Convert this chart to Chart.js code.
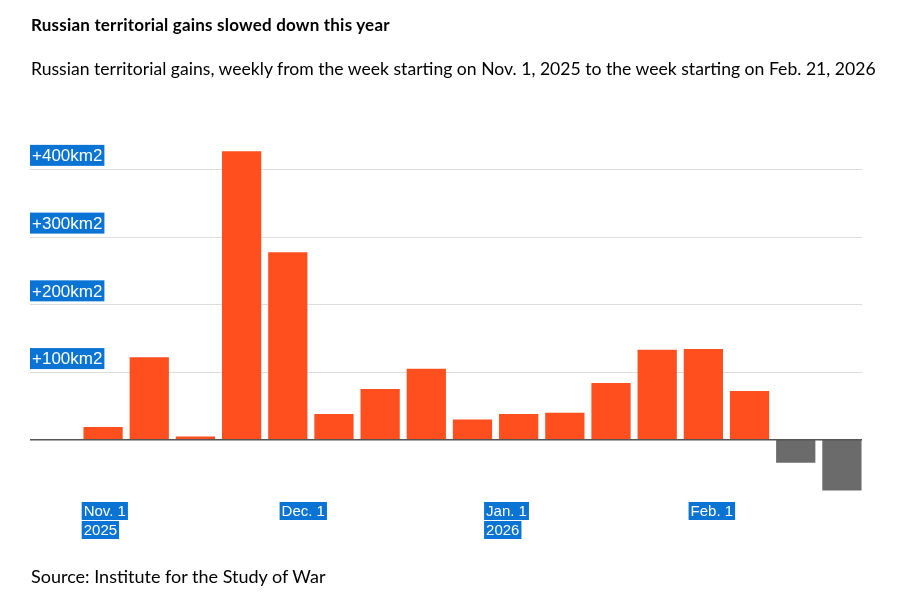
<!DOCTYPE html>
<html>
<head>
<meta charset="utf-8">
<script src="https://cdn.jsdelivr.net/npm/chart.js@4.4.1/dist/chart.umd.min.js"></script>
<style>
    html, body { margin: 0; padding: 0; background: #fff; }
    body { width: 916px; height: 607px; position: relative; overflow: hidden; font-family: Lato, "Open Sans", sans-serif; color: #000; }
    #wrap { position: absolute; left: 0; top: 0; width: 916px; height: 607px; }
    .title { position: absolute; left: 31px; top: 14px; font-size: 17px; font-weight: bold; letter-spacing: 0.2px; }
    .subtitle { position: absolute; left: 31px; top: 58px; font-size: 17.6px; }
    .source { position: absolute; left: 31px; top: 565px; font-size: 18px; }
</style>
</head>
<body>
<div id="wrap"><canvas id="gainsChart" width="916" height="607"></canvas></div>
<div class="title">Russian territorial gains slowed down this year</div>
<div class="subtitle">Russian territorial gains, weekly from the week starting on Nov. 1, 2025 to the week starting on Feb. 21, 2026</div>
<div class="source">Source: Institute for the Study of War</div>
<script>
// weeks starting Nov. 1, 2025 ... Feb. 21, 2026
const weeks = ['2025-11-01', '2025-11-08', '2025-11-15', '2025-11-22', '2025-11-29',
    '2025-12-06', '2025-12-13', '2025-12-20', '2025-12-27', '2026-01-03', '2026-01-10',
    '2026-01-17', '2026-01-24', '2026-01-31', '2026-02-07', '2026-02-14', '2026-02-21'];
const gains = [19, 122, 5, 426, 277, 38, 75, 105, 30, 38, 40, 84, 133, 134, 72, -34, -75];

const yTicks = [100, 200, 300, 400];
const yTickLabels = ['+100km2', '+200km2', '+300km2', '+400km2'];

// month labels: week index + days into that week
const monthWeek = [0, 4, 8, 13];
const monthDay = [0, 2, 5, 1];
const monthLabels = [['Nov. 1', '2025'], ['Dec. 1'], ['Jan. 1', '2026'], ['Feb. 1']];

const ORANGE = '#ff4f1f';
const GREY = '#6b6b6b';
const HIGHLIGHT = '#0a74d4';

function highlightText(ctx, text, x, y, h) {
    const w = ctx.measureText(text).width;
    ctx.fillStyle = HIGHLIGHT;
    ctx.fillRect(x - 2, y, w + 4, h);
    ctx.fillStyle = '#fff';
    ctx.fillText(text, x, y + h / 2 + 1);
}

// gridlines, zero line and highlighted labels
const decorPlugin = {
    id: 'decor',
    beforeDatasetsDraw(chart) {
        const ctx = chart.ctx;
        const y = chart.scales.y;
        ctx.save();
        ctx.strokeStyle = '#dddddd';
        ctx.lineWidth = 1;
        yTicks.forEach(v => {
            const py = Math.round(y.getPixelForValue(v)) + 0.5;
            ctx.beginPath();
            ctx.moveTo(30, py);
            ctx.lineTo(862, py);
            ctx.stroke();
        });
        ctx.restore();
    },
    afterDatasetsDraw(chart) {
        const ctx = chart.ctx;
        const x = chart.scales.x;
        const y = chart.scales.y;
        ctx.save();
        ctx.strokeStyle = '#555555';
        ctx.lineWidth = 1.5;
        const zy = y.getPixelForValue(0);
        ctx.beginPath();
        ctx.moveTo(30, zy);
        ctx.lineTo(862, zy);
        ctx.stroke();

        ctx.font = '17px "Liberation Sans", Arial, sans-serif';
        ctx.textBaseline = 'middle';
        ctx.textAlign = 'left';
        yTicks.forEach((v, i) => {
            const py = y.getPixelForValue(v);
            highlightText(ctx, yTickLabels[i], 32, py - 24, 21);
        });

        const catW = x.width / weeks.length;
        ctx.font = '15px "Liberation Sans", Arial, sans-serif';
        monthLabels.forEach((lines, i) => {
            const px = x.getPixelForValue(monthWeek[i]) - catW / 2 + catW * 0.08 + monthDay[i] / 7 * catW;
            lines.forEach((t, j) => {
                highlightText(ctx, t, px, 502 + j * 19, 18);
            });
        });
        ctx.restore();
    }
};

new Chart(document.getElementById('gainsChart'), {
    type: 'bar',
    data: {
        labels: weeks,
        datasets: [{
            data: gains,
            backgroundColor: gains.map(v => v < 0 ? GREY : ORANGE),
            borderWidth: 0,
            categoryPercentage: 1,
            barPercentage: 0.85
        }]
    },
    options: {
        responsive: false,
        animation: false,
        layout: { padding: { left: 80, right: 51, top: 135, bottom: 113 } },
        scales: {
            x: { display: false },
            y: { display: false, min: -80, max: 450 }
        },
        plugins: {
            legend: { display: false },
            tooltip: { enabled: false }
        }
    },
    plugins: [decorPlugin]
});
</script>
</body>
</html>
